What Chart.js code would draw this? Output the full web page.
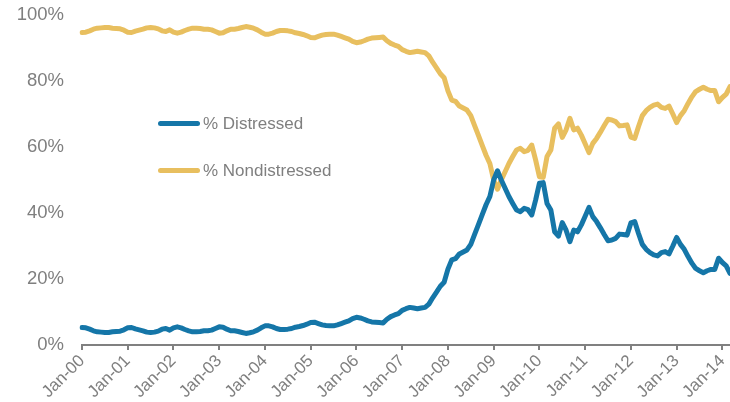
<!DOCTYPE html>
<html>
<head>
<meta charset="utf-8">
<script src="https://cdn.jsdelivr.net/npm/chart.js@4.4.1/dist/chart.umd.min.js"></script>
<style>
body{margin:0;background:#fff;}
#wrap{position:relative;width:730px;height:402px;}
.leg{position:absolute;left:158px;height:20px;font:17px "Liberation Sans",Arial,sans-serif;color:#7f7f7f;white-space:nowrap;}
.leg i{position:absolute;left:0;top:7px;width:42px;height:5px;border-radius:3px;}
.leg span{position:absolute;left:45px;top:0;line-height:20px;}
</style>
</head>
<body>
<div id="wrap">
<canvas id="c" width="730" height="402"></canvas>
<div class="leg" style="top:114px"><i style="background:#1576a8"></i><span>% Distressed</span></div>
<div class="leg" style="top:161px"><i style="background:#e8bf5f"></i><span>% Nondistressed</span></div>
</div>
<script>
// monthly, Jan-00 .. Mar-14
var monthNames = ['Jan','Feb','Mar','Apr','May','Jun','Jul','Aug','Sep','Oct','Nov','Dec'];
var firstYear = 2000, nbMonths = 171;

var distressed = [
5.3,5.2,4.8,4.3,4.0,3.9,3.8,3.8,4.0,4.1,4.2,4.6,
5.2,5.3,4.9,4.6,4.3,3.9,3.8,3.9,4.2,4.8,5.0,4.5,
5.2,5.5,5.2,4.7,4.3,4.0,4.0,4.1,4.3,4.3,4.5,5.0,
5.5,5.4,4.8,4.3,4.3,4.1,3.8,3.5,3.7,4.0,4.5,5.2,
5.8,5.8,5.5,5.0,4.7,4.7,4.8,5.0,5.4,5.6,5.9,6.3,
6.8,6.9,6.5,6.1,5.9,5.8,5.8,6.1,6.5,6.9,7.3,8.0,
8.4,8.2,7.8,7.3,7.0,6.9,6.8,6.7,7.8,8.6,9.1,9.5,
10.5,11.0,11.4,11.2,11.0,11.2,11.4,12.4,14.3,16.0,17.8,19.0,
23.0,25.8,26.2,27.6,28.2,28.8,30.5,33.5,36.5,39.5,42.5,45.0,
50.0,52.8,50.0,47.5,45.0,42.9,40.9,40.4,41.4,41.0,39.4,43.9,
49.0,49.2,42.9,40.9,34.3,33.0,37.1,34.8,31.3,34.8,34.3,36.4,
39.0,41.7,38.9,37.4,35.5,33.5,31.6,31.8,32.3,33.6,33.5,33.3,
37.0,37.4,33.8,30.5,29.0,28.0,27.3,27.0,28.0,28.3,27.6,30.0,
32.6,30.5,29.0,26.8,24.8,23.2,22.5,21.9,22.5,22.9,22.9,26.3,
25.0,24.0,21.7
];

var nondistressed = [
94.7,94.8,95.2,95.7,96.0,96.1,96.2,96.2,96.0,95.9,95.8,95.4,
94.8,94.7,95.1,95.4,95.7,96.1,96.2,96.1,95.8,95.2,95.0,95.5,
94.8,94.5,94.8,95.3,95.7,96.0,96.0,95.9,95.7,95.7,95.5,95.0,
94.5,94.6,95.2,95.7,95.7,95.9,96.2,96.5,96.3,96.0,95.5,94.8,
94.2,94.2,94.5,95.0,95.3,95.3,95.2,95.0,94.6,94.4,94.1,93.7,
93.2,93.1,93.5,93.9,94.1,94.2,94.2,93.9,93.5,93.1,92.7,92.0,
91.6,91.8,92.2,92.7,93.0,93.1,93.2,93.3,92.2,91.4,90.9,90.5,
89.5,89.0,88.6,88.8,89.0,88.8,88.6,87.6,85.7,84.0,82.2,81.0,
77.0,74.2,73.8,72.4,71.8,71.2,69.5,66.5,63.5,60.5,57.5,55.0,
50.0,47.2,50.0,52.5,55.0,57.1,59.1,59.6,58.6,59.0,60.6,56.1,
51.0,50.8,57.1,59.1,65.7,67.0,62.9,65.2,68.7,65.2,65.7,63.6,
61.0,58.3,61.1,62.6,64.5,66.5,68.4,68.2,67.7,66.4,66.5,66.7,
63.0,62.6,66.2,69.5,71.0,72.0,72.7,73.0,72.0,71.7,72.4,70.0,
67.4,69.5,71.0,73.2,75.2,76.8,77.5,78.1,77.5,77.1,77.1,73.7,
75.0,76.0,78.3
];

var yTicks = [0,20,40,60,80,100];

var labels = [];
for(var i=0;i<nbMonths;i++){
	var y = (firstYear + Math.floor(i/12)) % 100;
	labels.push(monthNames[i%12]+'-'+(y<10?'0'+y:y));
}

var grey = '#7f7f7f';
var fam = '"Liberation Sans", Arial, sans-serif';

new Chart(document.getElementById('c'), {
	type:'line',
	data:{
		labels:labels,
		datasets:[
			{label:'% Distressed', data:distressed, borderColor:'#1576a8', backgroundColor:'#1576a8'},
			{label:'% Nondistressed', data:nondistressed, borderColor:'#e8bf5f', backgroundColor:'#e8bf5f'}
		]
	},
	options:{
		responsive:false,
		animation:false,
		layout:{padding:{top:15,right:0,left:0,bottom:0}},
		elements:{
			point:{radius:0},
			line:{borderWidth:5,tension:0,borderJoinStyle:'round',borderCapStyle:'round'}
		},
		plugins:{legend:{display:false},tooltip:{enabled:false}},
		scales:{
			x:{
				grid:{drawOnChartArea:false,drawTicks:true,tickLength:5,color:'#808080',lineWidth:2},
				border:{display:true,color:'#808080',width:2},
				ticks:{
					autoSkip:false,maxRotation:45,minRotation:45,color:grey,font:{family:fam,size:17},padding:1,
					callback:function(v,idx){ return idx%12==0 ? this.getLabelForValue(v) : null; }
				},
				afterFit:function(s){ s.height = 57; s.paddingLeft = 0; s.paddingRight = 0; }
			},
			y:{
				min:0,max:100,
				grid:{display:false,drawTicks:false},
				border:{display:false},
				afterBuildTicks:function(s){ s.ticks = yTicks.map(function(v){return {value:v};}); },
				ticks:{color:grey,font:{family:fam,size:18.5},padding:18,callback:function(v){return v+'%';}},
				afterFit:function(s){ s.width = 82; s.paddingTop = 0; s.paddingBottom = 0; }
			}
		}
	}
});
</script>
</body>
</html>
